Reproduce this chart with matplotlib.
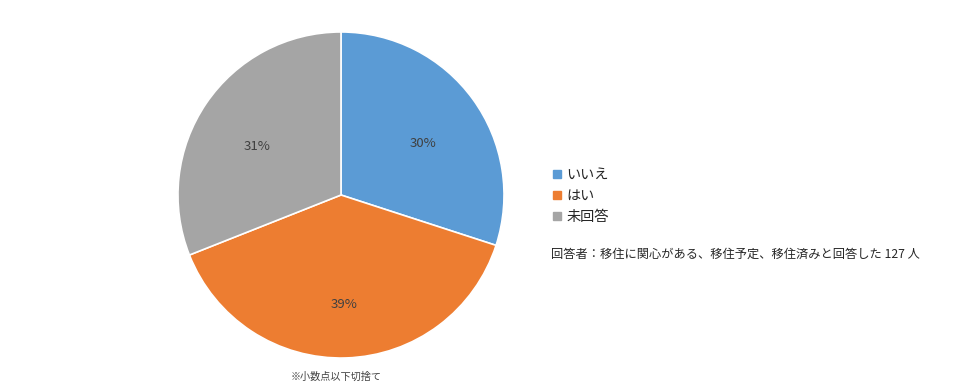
import matplotlib.pyplot as plt
import matplotlib.transforms as mtransforms
from matplotlib.lines import Line2D

plt.rcParams['font.family'] = ['Noto Sans CJK JP', 'DejaVu Sans']

# データ
labels = ["いいえ", "はい", "未回答"]
values = [30, 39, 31]
colors = ["#5B9BD5", "#ED7D31", "#A5A5A5"]
note = "回答者：移住に関心がある、移住予定、移住済みと回答した 127 人"
footnote = "※小数点以下切捨て"

fig = plt.figure(figsize=(9.8, 3.9), dpi=100)
ax = fig.add_axes([0.1816, 0.082, 0.3327, 0.836])

wedges, texts, autotexts = ax.pie(
    values, colors=colors, startangle=90, counterclock=False,
    autopct=lambda p: f"{int(round(p))}%", pctdistance=0.62,
    wedgeprops=dict(edgecolor="white", linewidth=1.2),
    textprops=dict(fontsize=9.5, color="#404040"))
ax.set_xlim(-1, 1)
ax.set_ylim(-1, 1)
ax.set_aspect("equal")

# ラベルを少し下へ
shift = mtransforms.ScaledTranslation(0, -8 / 100, fig.dpi_scale_trans)
for t in autotexts:
    t.set_transform(t.get_transform() + shift)

# 凡例
handles = [Line2D([], [], marker="s", linestyle="none", markersize=6,
                  markerfacecolor=c, markeredgecolor=c) for c in colors]
fig.legend(handles, labels, loc="upper left", bbox_to_anchor=(0.555, 0.585),
           frameon=False, fontsize=10.2, handletextpad=0.2, labelspacing=0.5,
           handlelength=1.0, borderaxespad=0)
for t in fig.legends[0].get_texts():
    t.set_color("#262626")

fig.text(0.562, 0.348, note, fontsize=8.8, color="#262626", va="center")
fig.text(0.343, 0.035, footnote, fontsize=7.3, color="#404040", ha="center", va="center")

fig.savefig("out.png", dpi=100)
